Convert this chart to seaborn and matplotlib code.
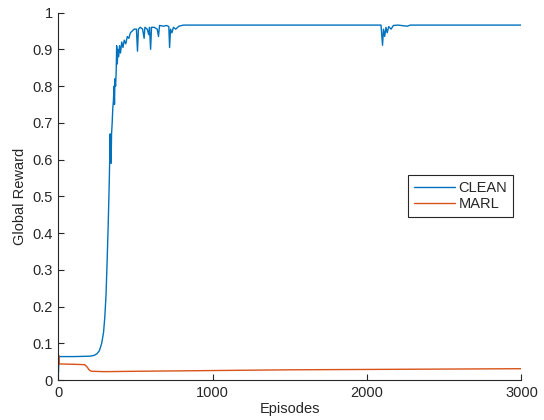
import pandas as pd
import seaborn as sns
import matplotlib
matplotlib.use('Agg')
import matplotlib.pyplot as plt

# values
clean_episodes = [0, 3, 100, 200, 230, 250, 265, 280, 292, 300, 308, 315, 322,
                  328, 332, 335, 338, 341, 344, 348, 352, 356, 360, 363, 366,
                  370, 374, 377, 381, 385, 390, 396, 402, 410, 418, 426, 436,
                  446, 456, 466, 478, 490, 505, 512, 518, 530, 545, 555, 560,
                  575, 585, 590, 597, 603, 620, 640, 648, 655, 680, 700, 715,
                  720, 726, 735, 745, 760, 780, 810, 2090, 2100, 2106, 2114,
                  2122, 2130, 2140, 2155, 2170, 2200, 2260, 2280, 3000]
clean_reward = [0.02, 0.064, 0.064, 0.065, 0.067, 0.072, 0.08, 0.10, 0.13, 0.17,
                0.23, 0.32, 0.42, 0.52, 0.60, 0.67, 0.60, 0.59, 0.67, 0.70,
                0.74, 0.76, 0.80, 0.75, 0.82, 0.80, 0.84, 0.91, 0.86, 0.90,
                0.88, 0.91, 0.89, 0.92, 0.905, 0.925, 0.915, 0.935, 0.93,
                0.945, 0.95, 0.955, 0.955, 0.895, 0.955, 0.96, 0.955, 0.93,
                0.96, 0.955, 0.94, 0.96, 0.90, 0.96, 0.96, 0.955, 0.935, 0.965,
                0.963, 0.965, 0.962, 0.905, 0.955, 0.945, 0.96, 0.955, 0.963,
                0.966, 0.966, 0.911, 0.955, 0.935, 0.96, 0.945, 0.962, 0.955,
                0.965, 0.966, 0.963, 0.966, 0.966]

marl_episodes = [0, 1, 4, 100, 170, 185, 200, 215, 300, 500, 1000, 1500, 2000,
                 2500, 3000]
marl_reward = [0.043, 0.068, 0.044, 0.043, 0.042, 0.036, 0.027, 0.024, 0.023,
               0.024, 0.026, 0.028, 0.029, 0.030, 0.031]

x_ticks = [0, 1000, 2000, 3000]
y_ticks = [0, 0.1, 0.2, 0.3, 0.4, 0.5, 0.6, 0.7, 0.8, 0.9, 1]

df = pd.concat([
    pd.DataFrame({'Episodes': clean_episodes, 'Global Reward': clean_reward,
                  'method': 'CLEAN'}),
    pd.DataFrame({'Episodes': marl_episodes, 'Global Reward': marl_reward,
                  'method': 'MARL'}),
])

sns.set_style('ticks')
plt.rcParams['font.family'] = ['Liberation Sans', 'DejaVu Sans']
dark = '#262626'

fig = plt.figure(figsize=(5.44, 4.2), dpi=100)
ax = fig.add_axes([0.1075, 0.095, 0.851, 0.875])

sns.lineplot(data=df, x='Episodes', y='Global Reward', hue='method',
             palette={'CLEAN': '#0072BD', 'MARL': '#D95319'},
             estimator=None, sort=False, linewidth=1.0, ax=ax)

ax.set_xlim(0, 3000)
ax.set_ylim(0, 1)
ax.set_xticks(x_ticks)
ax.set_xticklabels([str(t) for t in x_ticks])
ax.set_yticks(y_ticks)
ax.set_yticklabels(['0', '0.1', '0.2', '0.3', '0.4', '0.5', '0.6', '0.7',
                    '0.8', '0.9', '1'])
ax.tick_params(direction='in', length=4, width=0.8, colors=dark,
               labelsize=10.5, pad=4)
ax.set_xlabel('Episodes', fontsize=10.5, color=dark, labelpad=2)
ax.set_ylabel('Global Reward', fontsize=10.5, color=dark, labelpad=4)
sns.despine(ax=ax)
for side in ['left', 'bottom']:
    ax.spines[side].set_color(dark)
    ax.spines[side].set_linewidth(0.8)

leg = ax.legend(loc='center right', bbox_to_anchor=(0.982, 0.5),
                fontsize=10.5, fancybox=False, framealpha=1,
                edgecolor=dark, handlelength=2.8, borderpad=0.4,
                labelspacing=0.15, handletextpad=0.25, borderaxespad=0)
leg.get_frame().set_linewidth(0.8)
for line in leg.get_lines():
    line.set_linewidth(1.0)

fig.savefig('out.png', dpi=100)
